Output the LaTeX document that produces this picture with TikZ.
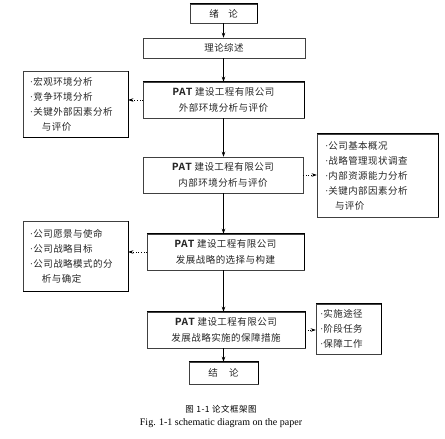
\documentclass[tikz,border=0pt]{standalone}
\usepackage{fontspec}
\setmainfont{Liberation Serif}
\newfontfamily\cjk[LetterSpace=5]{Noto Sans CJK SC}
\newfontfamily\cjkcap[LetterSpace=6]{Noto Sans CJK SC}
\newfontfamily\patfont{Liberation Mono}
\usetikzlibrary{arrows.meta}
\newcommand{\PAT}{{\patfont\bfseries\fontsize{11}{11}\selectfont PAT}}
\newcommand{\bul}{{\rmfamily\fontsize{10}{10}\selectfont ·}}
\begin{document}
\begin{tikzpicture}[x=1pt,y=-1pt,
  box/.style={draw=black!75, line width=0.5pt, inner sep=0pt, align=center,
    font=\cjk\fontsize{9.5}{16}\selectfont, text=black!85},
  side/.style={draw=black!75, line width=0.5pt, inner ysep=0pt, align=left,
    font=\cjk\fontsize{9.5}{15}\selectfont, text=black!85},
  arr/.style={line width=0.6pt, -{Stealth[length=5pt,width=3.5pt]}},
  darr/.style={line width=0.6pt, dotted, -{Stealth[length=5pt,width=3.5pt]}},
  thk/.style={line width=1.3pt, black}
]
\useasboundingbox (0,0) rectangle (445,439);

% main column
\node[box, minimum width=67pt, minimum height=19pt] (lun) at (223.5,13.5) {绪\hspace{1em}论};
\node[box, minimum width=162pt, minimum height=20pt] (zs) at (224,48) {理论综述};
\node[box, minimum width=161pt, minimum height=36pt] (ext) at (223.5,100) {\PAT\ 建设工程有限公司\\外部环境分析与评价};
\node[box, minimum width=160pt, minimum height=36pt] (int) at (223,175) {\PAT\ 建设工程有限公司\\内部环境分析与评价};
\node[box, minimum width=157pt, minimum height=36pt] (str) at (225.5,252) {\PAT\ 建设工程有限公司\\发展战略的选择与构建};
\node[box, minimum width=158pt, minimum height=36pt] (mea) at (226,330) {\PAT\ 建设工程有限公司\\发展战略实施的保障措施};
\node[box, minimum width=69pt, minimum height=22pt] (jl) at (223.5,373) {结\hspace{1.2em}论};

% side boxes
\node[side, inner xsep=7pt, text width=91pt, minimum height=66pt] (L1) at (75.5,104)
  {\bul 宏观环境分析\\\bul 竞争环境分析\\\bul 关键外部因素分析\\\hspace*{12pt}与评价};
\node[side, inner xsep=8pt, text width=105pt, minimum height=83pt] (R1) at (377.5,175.5)
  {\bul 公司基本概况\\\bul 战略管理现状调查\\\bul 内部资源能力分析\\\bul 关键内部因素分析\\\hspace*{10pt}与评价};
\node[side, inner xsep=7pt, text width=91pt, minimum height=70pt] (L2) at (75.5,256)
  {\bul 公司愿景与使命\\\bul 公司战略目标\\\bul 公司战略模式的分\\\hspace*{12pt}析与确定};
\node[side, inner xsep=4pt, text width=57pt, minimum height=50pt] (R3) at (348.5,329)
  {\bul 实施途径\\\bul 阶段任务\\\bul 保障工作};

% heavier edges
\foreach \n in {lun,ext,str,mea,jl,R1,R3}
  \draw[thk] (\n.north west) -- (\n.north east) -- (\n.south east);
\foreach \n in {L1,L2}
  \draw[thk] (\n.north east) -- (\n.south east) -- (\n.south west);

% main arrows
\draw[arr] (lun.south) -- (lun.south |- zs.north);
\draw[arr] (zs.south -| lun) -- (ext.north -| lun);
\draw[arr] (ext.south -| lun) -- (int.north -| lun);
\draw[arr] (int.south -| lun) -- (str.north -| lun);
\draw[arr] (str.south -| lun) -- (mea.north -| lun);
\draw[arr] (mea.south -| lun) -- (jl.north);

% side arrows
\draw[darr] (ext.west) -- (ext.west -| L1.east);
\draw[darr] (int.east) -- (int.east -| R1.west);
\draw[darr] (str.west) -- (str.west -| L2.east);
\draw[darr] (mea.east) -- (mea.east -| R3.west);

% caption
\node[font=\cjkcap\fontsize{8.5}{10}\selectfont] (cap1) at (221,409) {图 1-1 论文框架图};
\node[font=\fontsize{10}{12}\selectfont] (cap2) at (221,423) {Fig. 1-1 schematic diagram on the paper};
\end{tikzpicture}
\end{document}
